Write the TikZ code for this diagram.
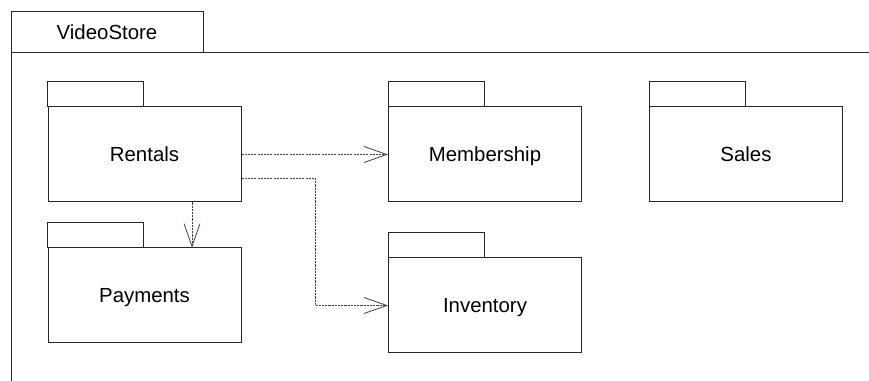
\documentclass[tikz,border=0pt]{standalone}
\usepackage{fontspec}
\setmainfont{Liberation Sans}
\usetikzlibrary{arrows.meta}

\begin{document}
\begin{tikzpicture}[x=0.75pt, y=0.75pt,
  pkg/.style={draw=black!85, line width=0.75pt, rectangle, inner sep=0pt, text depth=0pt,
    minimum width=144.75pt, minimum height=71.25pt, font=\fontsize{15.3}{18}\selectfont},
  tab/.style={draw=black!85, line width=0.75pt},
  dep/.style={black!75, line width=0.6pt, dash pattern=on 1.6pt off 0.8pt,
    -{Straight Barb[length=17pt, width=12pt, line width=0.6pt, sep=0pt]}}]
  \useasboundingbox (0,0) rectangle (869,381);
  \draw[tab] (11,328) rectangle (203,369);
  \draw[tab] (869,328) -- (11,328) -- (11,0);
  \node[font=\fontsize{15.3}{18}\selectfont] (videostore) at (107,348.5) {VideoStore};
  \node[pkg] (rentals) at (144.5,226.5) {Rentals};
  \node[pkg] (membership) at (485,226.5) {Membership};
  \node[pkg] (sales) at (746,226.5) {Sales};
  \node[pkg] (payments) at (144.5,85.5) {Payments};
  \node[pkg] (inventory) at (485,75.5) {Inventory};
  \draw[tab] (rentals.north west) rectangle ++(96,25);
  \draw[tab] (membership.north west) rectangle ++(96,25);
  \draw[tab] (sales.north west) rectangle ++(96,25);
  \draw[tab] (payments.north west) rectangle ++(96,25);
  \draw[tab] (inventory.north west) rectangle ++(96,25);
  \coordinate (bend) at (315,203);
  \coordinate (drop) at (192,0);
  \draw[dep] (rentals.east) -- (membership.west);
  \draw[dep] (rentals.east |- bend) -- (bend) |- (inventory.west);
  \draw[dep] (rentals.south -| drop) -- (payments.north -| drop);
\end{tikzpicture}
\end{document}
